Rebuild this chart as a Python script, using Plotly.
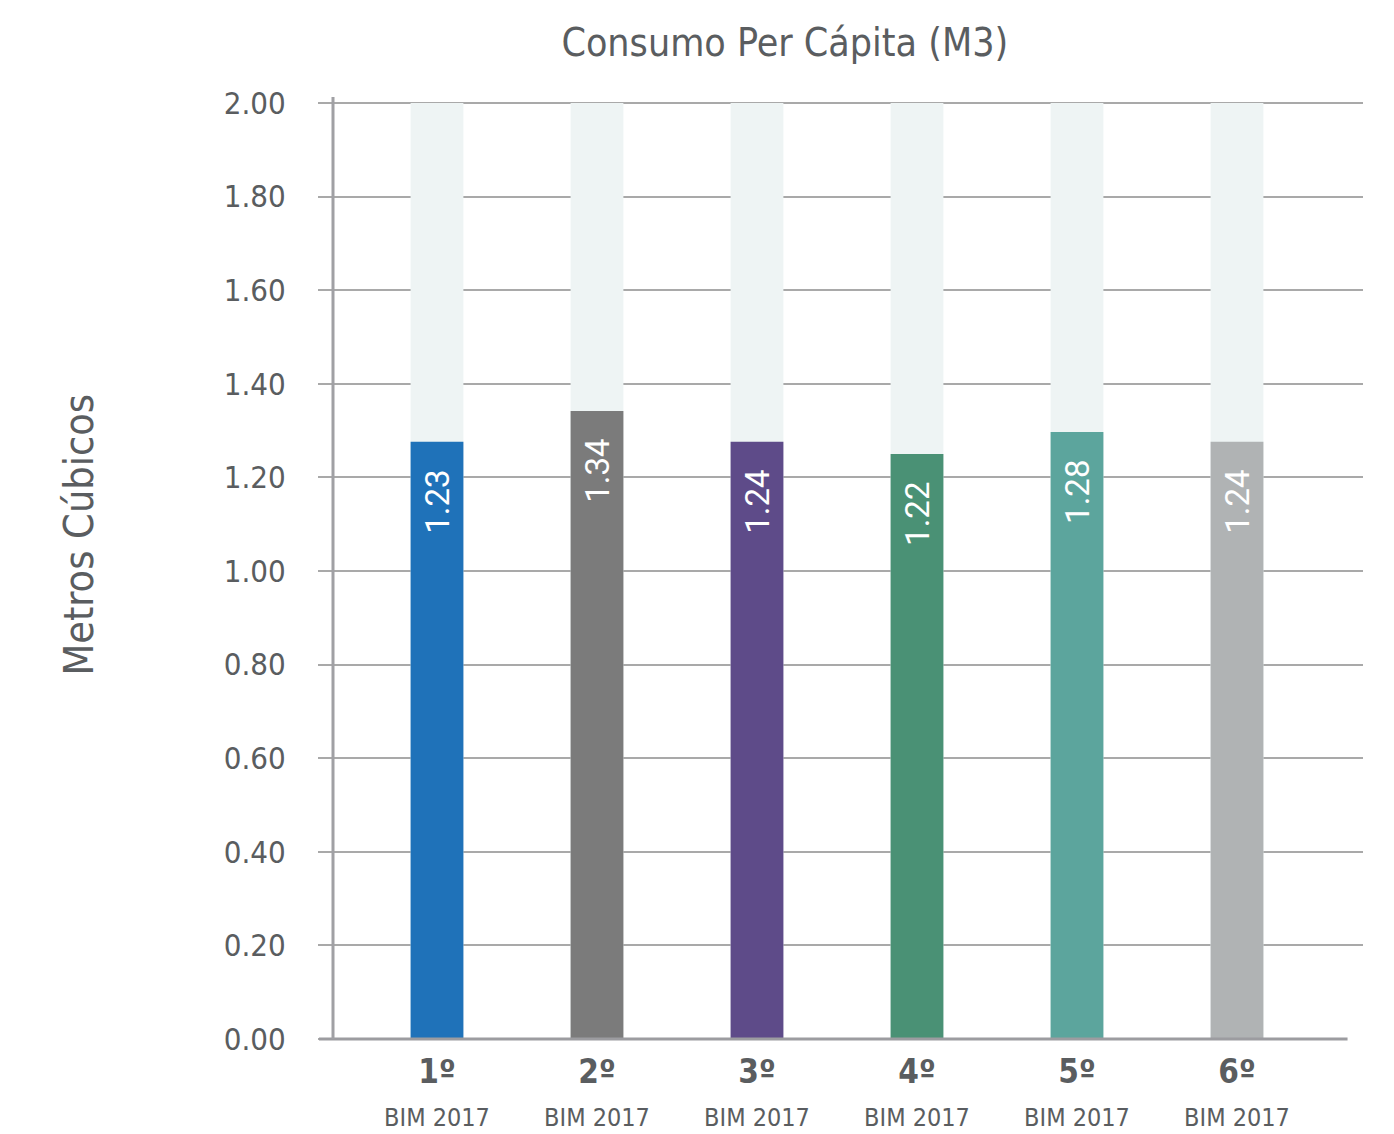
import plotly.graph_objects as go

categories = ["1º", "2º", "3º", "4º", "5º", "6º"]
subtitle = "BIM 2017"
values = [1.276, 1.342, 1.276, 1.250, 1.297, 1.276]
value_labels = ["1.23", "1.34", "1.24", "1.22", "1.28", "1.24"]
background_max = [2.0] * 6
colors = ["#1f72b9", "#7b7b7b", "#5e4b89", "#4a9175", "#5ca59d", "#b0b3b4"]
y_ticks = [0, 0.2, 0.4, 0.6, 0.8, 1.0, 1.2, 1.4, 1.6, 1.8, 2.0]

FONT = "Liberation Sans Narrow, DejaVu Sans Condensed, Roboto, sans-serif"
TXT = "#5a5d60"
GRID = "#a9a9a9"

xs = list(range(len(categories)))
ticktext = [f"<b>{c}</b><br><span style='font-size:25px'>{subtitle}</span>" for c in categories]

fig = go.Figure()
fig.add_trace(go.Bar(x=xs, y=background_max, width=0.33, marker=dict(color="#eef4f4", line_width=0),
                     hoverinfo="skip", showlegend=False))
fig.add_trace(go.Bar(x=xs, y=values, width=0.33, marker=dict(color=colors, line_width=0),
                     text=[v + "&nbsp;&nbsp;&nbsp;" for v in value_labels], textposition="inside",
                     insidetextanchor="end",
                     textangle=-90, textfont=dict(family="Roboto", size=33, color="white"),
                     cliponaxis=False, showlegend=False))

fig.update_layout(
    width=1394, height=1134,
    margin=dict(l=333, r=31, t=97, b=95, autoexpand=False),
    barmode="overlay",
    plot_bgcolor="white", paper_bgcolor="white",
    font=dict(family=FONT, color=TXT),
    title=dict(text="Consumo Per Cápita (M3)", x=0.563, xanchor="center", y=0.963, yanchor="middle",
               font=dict(family=FONT, size=39, color=TXT)),
    xaxis=dict(range=[-0.65, 5.7875], tickmode="array", tickvals=xs, ticktext=ticktext, automargin=False,
               tickfont=dict(family=FONT, size=33, color=TXT), showgrid=False, zeroline=False,
               showline=False, ticks="", ticklabelstandoff=10),
    yaxis=dict(range=[0, 2.0128], tickmode="array", tickvals=y_ticks, automargin=False,
               ticktext=[f"{t:.2f}" for t in y_ticks],
               tickfont=dict(family=FONT, size=31, color=TXT), showgrid=True, gridcolor=GRID, gridwidth=1.5,
               zeroline=False, showline=False, ticks="outside", ticklen=14, tickcolor=GRID, tickwidth=1.5,
               ticklabelstandoff=26),
)

fig.add_annotation(text="Metros Cúbicos", xref="paper", yref="paper", x=-0.247, y=0.535,
                   xanchor="center", yanchor="middle", textangle=-90, showarrow=False,
                   font=dict(family=FONT, size=41, color=TXT))

# axis lines
fig.add_shape(type="line", xref="paper", yref="paper", x0=-0.0136, x1=0.985, y0=0, y1=0,
              line=dict(color="#9c9ca0", width=3), layer="above")
fig.add_shape(type="line", xref="paper", yref="paper", x0=0, x1=0, y0=0, y1=1,
              line=dict(color="#a0a0a4", width=3), layer="above")

fig.write_html("out.html")
